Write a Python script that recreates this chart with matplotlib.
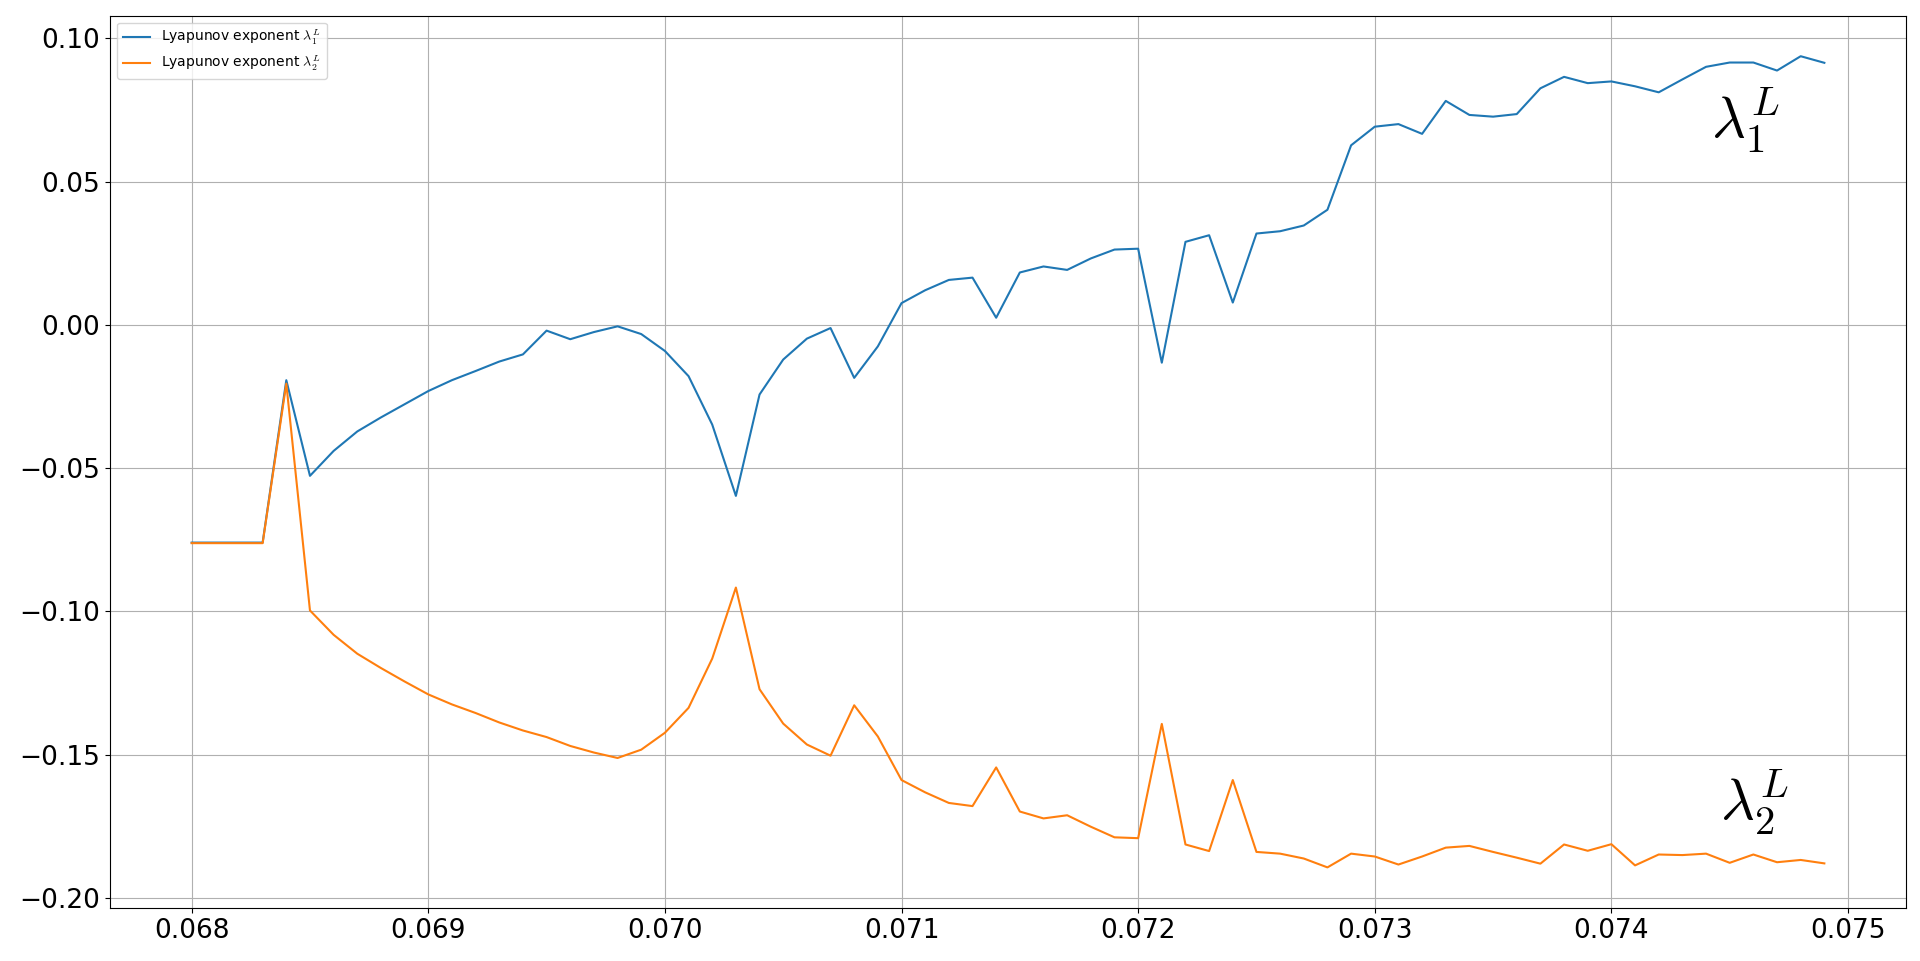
import numpy as np
import matplotlib
matplotlib.use('Agg')
import matplotlib.pyplot as plt

plt.rcParams['mathtext.fontset'] = 'cm'

# 参数 (0.0680 .. 0.0749, 步长 0.0001)
x = np.round(np.arange(0.0680, 0.07495, 0.0001), 4)

lam1 = [-0.0760, -0.0760, -0.0760, -0.0760, -0.0193, -0.0527, -0.0440, -0.0372, -0.0323, -0.0277,
        -0.0231, -0.0193, -0.0161, -0.0128, -0.0103, -0.0020, -0.0050, -0.0025, -0.0005, -0.0032,
        -0.0091, -0.0179, -0.0348, -0.0597, -0.0243, -0.0121, -0.0048, -0.0011, -0.0185, -0.0075,
        0.0076, 0.0121, 0.0157, 0.0165, 0.0025, 0.0183, 0.0204, 0.0192, 0.0232, 0.0263,
        0.0266, -0.0132, 0.0290, 0.0313, 0.0078, 0.0319, 0.0327, 0.0347, 0.0402, 0.0627,
        0.0692, 0.0701, 0.0667, 0.0782, 0.0733, 0.0727, 0.0736, 0.0826, 0.0866, 0.0844,
        0.0850, 0.0833, 0.0812, 0.0857, 0.0901, 0.0916, 0.0916, 0.0888, 0.0938, 0.0915]

lam2 = [-0.0762, -0.0762, -0.0762, -0.0762, -0.0205, -0.0997, -0.1082, -0.1148, -0.1198, -0.1245,
        -0.1290, -0.1325, -0.1355, -0.1388, -0.1416, -0.1439, -0.1470, -0.1493, -0.1512, -0.1483,
        -0.1424, -0.1337, -0.1165, -0.0917, -0.1272, -0.1392, -0.1465, -0.1504, -0.1328, -0.1437,
        -0.1589, -0.1632, -0.1669, -0.1680, -0.1545, -0.1699, -0.1723, -0.1712, -0.1752, -0.1789,
        -0.1792, -0.1393, -0.1814, -0.1837, -0.1589, -0.1840, -0.1846, -0.1863, -0.1894, -0.1846,
        -0.1856, -0.1884, -0.1856, -0.1825, -0.1819, -0.1840, -0.1860, -0.1881, -0.1814, -0.1836,
        -0.1813, -0.1887, -0.1849, -0.1851, -0.1846, -0.1878, -0.1849, -0.1876, -0.1868, -0.1880]

fig = plt.figure(figsize=(19.2, 9.61), dpi=100)
ax = fig.add_subplot(111)
fig.subplots_adjust(left=0.0573, right=0.9927, top=0.9837, bottom=0.0552)

ax.plot(x, lam1, label=r'Lyapunov exponent $\lambda_1^L$')
ax.plot(x, lam2, label=r'Lyapunov exponent $\lambda_2^L$')

ax.text(0.07442, 0.0652, r'$\lambda_1^L$', fontsize=42)
ax.text(0.07446, -0.1730, r'$\lambda_2^L$', fontsize=42)

ax.grid(True)
ax.tick_params(labelsize=19)
ax.legend(loc='upper left')

fig.savefig('out.png', dpi=100)
